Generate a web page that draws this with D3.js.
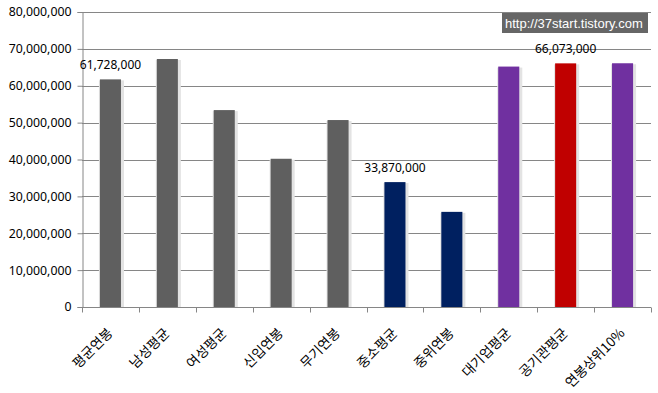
<!DOCTYPE html>
<html>
<head>
<meta charset="utf-8">
<script src="https://cdn.jsdelivr.net/npm/d3@7"></script>
<style>
  body { margin: 0; background: #fff; }
  svg { display: block; }
</style>
</head>
<body>
<div id="chart"></div>
<script>
const categories = ['평균연봉','남성평균','여성평균','신입연봉','무기연봉','중소평균','중위연봉','대기업평균','공기관평균','연봉상위10%'];
const salaries = [61728000, 67250000, 53400000, 40200000, 50700000, 33870000, 25800000, 65200000, 66073000, 66100000];
const barColors = ['#5f5f5f','#5f5f5f','#5f5f5f','#5f5f5f','#5f5f5f','#002060','#002060','#7030a0','#c00000','#7030a0'];
const labelled = ['평균연봉','중소평균','공기관평균'];
const yTicks = [0,10000000,20000000,30000000,40000000,50000000,60000000,70000000,80000000];
const watermark = 'http://37start.tistory.com';

const width = 658, height = 393;
const margin = {left: 82, right: 7, top: 12, bottom: 86};

let svg = d3.select('#chart').append('svg')
    .attr('width', width)
    .attr('height', height);

let x = d3.scaleBand()
    .domain(categories)
    .range([margin.left, width - margin.right])
    .paddingInner(0.63)
    .paddingOuter(0.315);

let y = d3.scaleLinear()
    .domain([0, 80000000])
    .range([height - margin.bottom, margin.top]);

const fmt = d3.format(',');

// gridlines
svg.append('g')
    .selectAll('line')
    .data(yTicks.slice(1))
    .enter().append('line')
    .attr('x1', margin.left)
    .attr('x2', width - margin.right)
    .attr('y1', d => Math.round(y(d)) + 0.5)
    .attr('y2', d => Math.round(y(d)) + 0.5)
    .attr('stroke', '#868686');

// y axis
let yAxis = svg.append('g')
    .attr('transform', `translate(${margin.left + 0.5},0)`)
    .call(d3.axisLeft(y).tickValues(yTicks).tickFormat(fmt).tickSize(5).tickPadding(6));
yAxis.select('.domain').attr('stroke', '#868686');
yAxis.selectAll('.tick line').attr('stroke', '#868686');
yAxis.selectAll('.tick text')
    .attr('fill', '#000')
    .style('font-family', 'Noto Sans, Liberation Sans, sans-serif')
    .style('font-size', '12.3px');

// bar shadows + bars
let bars = svg.append('g').selectAll('g')
    .data(categories)
    .enter().append('g');

bars.append('rect')
    .attr('x', d => x(d) - 1)
    .attr('y', (d, i) => y(salaries[i]) + 1)
    .attr('width', x.bandwidth() + 4)
    .attr('height', (d, i) => y(0) - y(salaries[i]) - 1)
    .attr('fill', '#e3e3e3');

bars.append('rect')
    .attr('x', d => x(d))
    .attr('y', (d, i) => y(salaries[i]))
    .attr('width', x.bandwidth())
    .attr('height', (d, i) => y(0) - y(salaries[i]))
    .attr('fill', (d, i) => barColors[i]);

// x axis
let xAxisY = Math.round(y(0)) + 0.5;
svg.append('line')
    .attr('x1', margin.left).attr('x2', width - margin.right)
    .attr('y1', xAxisY).attr('y2', xAxisY)
    .attr('stroke', '#868686');

let edges = d3.range(categories.length + 1).map(i => margin.left + i * (width - margin.right - margin.left) / categories.length);
svg.append('g').selectAll('line')
    .data(edges)
    .enter().append('line')
    .attr('x1', d => Math.round(d) + 0.5)
    .attr('x2', d => Math.round(d) + 0.5)
    .attr('y1', xAxisY)
    .attr('y2', xAxisY + 5)
    .attr('stroke', '#868686');

svg.append('g').selectAll('text')
    .data(categories)
    .enter().append('text')
    .attr('transform', d => `translate(${x(d) + x.bandwidth() / 2 + 3},${y(0) + 27}) rotate(-45)`)
    .attr('text-anchor', 'end')
    .style('font-family', 'Noto Sans CJK KR, sans-serif')
    .style('font-size', '13.5px')
    .attr('fill', '#000')
    .text(d => d);

// value labels
svg.append('g').selectAll('text')
    .data(categories.filter(c => labelled.includes(c)))
    .enter().append('text')
    .attr('x', d => x(d) + x.bandwidth() / 2)
    .attr('y', d => y(salaries[categories.indexOf(d)]) - 10)
    .attr('text-anchor', 'middle')
    .style('font-family', 'Noto Sans, Liberation Sans, sans-serif')
    .style('font-size', '12px')
    .attr('fill', '#000')
    .text(d => fmt(salaries[categories.indexOf(d)]));

// watermark
let wm = svg.append('g').attr('transform', 'translate(502,13)');
wm.append('rect')
    .attr('width', 146)
    .attr('height', 20)
    .attr('fill', '#666666');
wm.append('text')
    .attr('x', 3)
    .attr('y', 15)
    .style('font-family', 'Liberation Sans, Arial, sans-serif')
    .style('font-size', '13px')
    .attr('fill', '#fff')
    .text(watermark);
</script>
</body>
</html>
